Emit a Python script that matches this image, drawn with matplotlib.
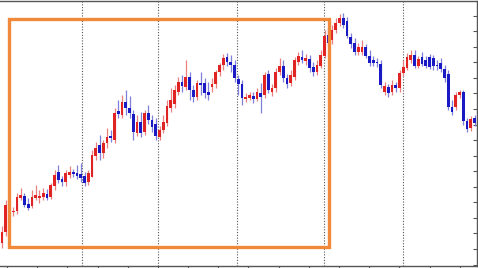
import numpy as np
import matplotlib
matplotlib.use("Agg")
import matplotlib.pyplot as plt
from matplotlib.patches import Rectangle

# OHLC values (arbitrary price units)
opens = [25, 36, 63, 56, 57, 70, 72, 64, 62, 70, 70, 71, 74, 71, 82, 96, 89, 86, 93, 96,
         95, 94, 92, 86, 91, 112, 123, 115, 125, 132, 128, 157, 153, 166, 160, 154, 135, 146, 136, 155,
         148, 144, 131, 138, 145, 160, 164, 176, 186, 181, 191, 178, 171, 185, 185, 176, 181, 184, 196, 203,
         211, 206, 203, 189, 184, 169, 170, 172, 169, 175, 173, 194, 176, 180, 196, 202, 190, 185, 191, 206,
         211, 207, 209, 201, 196, 202, 212, 233, 228, 238, 245, 250, 247, 231, 225, 216, 216, 221, 212, 208,
         206, 204, 176, 181, 176, 183, 180, 195, 200, 208, 213, 202, 211, 208, 211, 210, 203, 205, 199, 194,
         161, 161, 173, 176, 147, 140, 150]
highs = [42, 68, 66, 61, 75, 80, 75, 70, 78, 83, 78, 80, 79, 85, 98, 103, 92, 98, 102, 99,
         103, 105, 96, 98, 118, 126, 133, 128, 140, 138, 160, 168, 173, 178, 172, 158, 153, 156, 158, 163,
         153, 150, 142, 153, 168, 180, 183, 191, 193, 208, 196, 183, 188, 196, 190, 186, 190, 198, 205, 214,
         215, 213, 208, 193, 188, 175, 176, 176, 180, 185, 196, 198, 184, 200, 210, 208, 194, 198, 211, 216,
         218, 214, 213, 206, 208, 218, 238, 240, 243, 250, 254, 255, 251, 235, 230, 225, 228, 224, 218, 212,
         210, 208, 186, 184, 188, 186, 198, 208, 215, 218, 218, 212, 216, 212, 214, 213, 208, 210, 203, 198,
         168, 176, 178, 178, 150, 152, 153]
lows = [20, 32, 50, 52, 54, 68, 61, 58, 60, 68, 65, 68, 68, 69, 78, 85, 82, 82, 90, 91,
        89, 86, 82, 83, 91, 108, 108, 110, 120, 126, 125, 150, 150, 153, 150, 128, 132, 131, 133, 144,
        136, 128, 128, 135, 142, 156, 160, 173, 176, 178, 168, 166, 168, 173, 170, 168, 176, 180, 192, 198,
        202, 196, 186, 173, 163, 166, 168, 165, 167, 155, 170, 175, 172, 176, 193, 186, 180, 182, 188, 203,
        205, 203, 196, 192, 193, 200, 210, 222, 224, 235, 242, 240, 230, 220, 213, 213, 213, 210, 202, 202,
        201, 180, 173, 171, 173, 176, 176, 192, 198, 205, 200, 200, 202, 200, 199, 198, 198, 196, 186, 158,
        153, 158, 170, 143, 136, 137, 142]
closes = [36, 63, 56, 57, 71, 73, 63, 60, 71, 73, 72, 75, 70, 83, 93, 88, 86, 95, 96, 94,
          92, 90, 85, 95, 113, 120, 115, 125, 131, 130, 155, 154, 166, 160, 155, 136, 146, 135, 155, 148,
          141, 132, 138, 146, 162, 168, 178, 186, 182, 191, 178, 171, 185, 183, 175, 173, 184, 196, 203, 210,
          206, 203, 190, 184, 170, 171, 173, 169, 176, 171, 193, 178, 180, 196, 202, 190, 184, 193, 208, 212,
          208, 210, 200, 196, 203, 213, 232, 225, 238, 245, 250, 243, 232, 224, 216, 221, 221, 212, 205, 205,
          205, 183, 182, 175, 183, 180, 195, 201, 211, 213, 202, 209, 204, 202, 201, 202, 202, 199, 190, 161,
          156, 173, 176, 147, 139, 149, 145]

vline_pos = [21.3, 41.5, 62.7, 85.9, 107.0]      # dotted separators (bar index)
box_x = (2.0, 87.3)                              # highlighted range (bar index)
box_y = (21, 249)                                # highlighted range (price)

UP, DOWN = "#e02323", "#1a1ac4"
UP_WICK, DOWN_WICK = "#ea8080", "#8080dc"

fig = plt.figure(figsize=(4.78, 2.68), dpi=100)
ax = fig.add_axes([0, 2.5 / 268, 476.5 / 478, 265 / 268])

x = np.arange(len(closes))
o = np.array(opens, float); c = np.array(closes, float)
h = np.array(highs, float); l = np.array(lows, float)
up = c >= o

ax.vlines(x[up], l[up], h[up], color=UP_WICK, lw=0.9, zorder=2)
ax.vlines(x[~up], l[~up], h[~up], color=DOWN_WICK, lw=0.9, zorder=2)
bottoms = np.minimum(o, c)
heights = np.maximum(np.abs(c - o), 1.2)
ax.bar(x[up], heights[up], bottom=bottoms[up], width=0.74, color=UP, lw=0, zorder=3)
ax.bar(x[~up], heights[~up], bottom=bottoms[~up], width=0.74, color=DOWN, lw=0, zorder=3)

for v in vline_pos:
    ax.axvline(v, color="#555555", ls=(0, (1, 1.5)), lw=0.8, zorder=1)

ax.add_patch(Rectangle((box_x[0], box_y[0]), box_x[1] - box_x[0], box_y[1] - box_y[0],
                       fill=False, ec="#f0893a", lw=2.4, zorder=4))

ax.set_xlim(-0.533, 126.53)
ax.set_ylim(2.5, 267.5)

ax.spines["left"].set_visible(False)
for s in ("top", "bottom", "right"):
    ax.spines[s].set_color("#555555")
    ax.spines[s].set_linewidth(1.0)

ax.set_xticks(np.arange(1.33, 127, 8.05))
ax.set_xticklabels([])
ax.tick_params(axis="x", direction="out", length=3, width=0.8, color="#555555")
ax.yaxis.tick_right()
ax.set_yticks(np.arange(3.5, 267, 15.55))
ax.set_yticklabels([])
ax.tick_params(axis="y", direction="in", length=3, width=0.8, color="#555555")

fig.savefig("out.png", dpi=100)
